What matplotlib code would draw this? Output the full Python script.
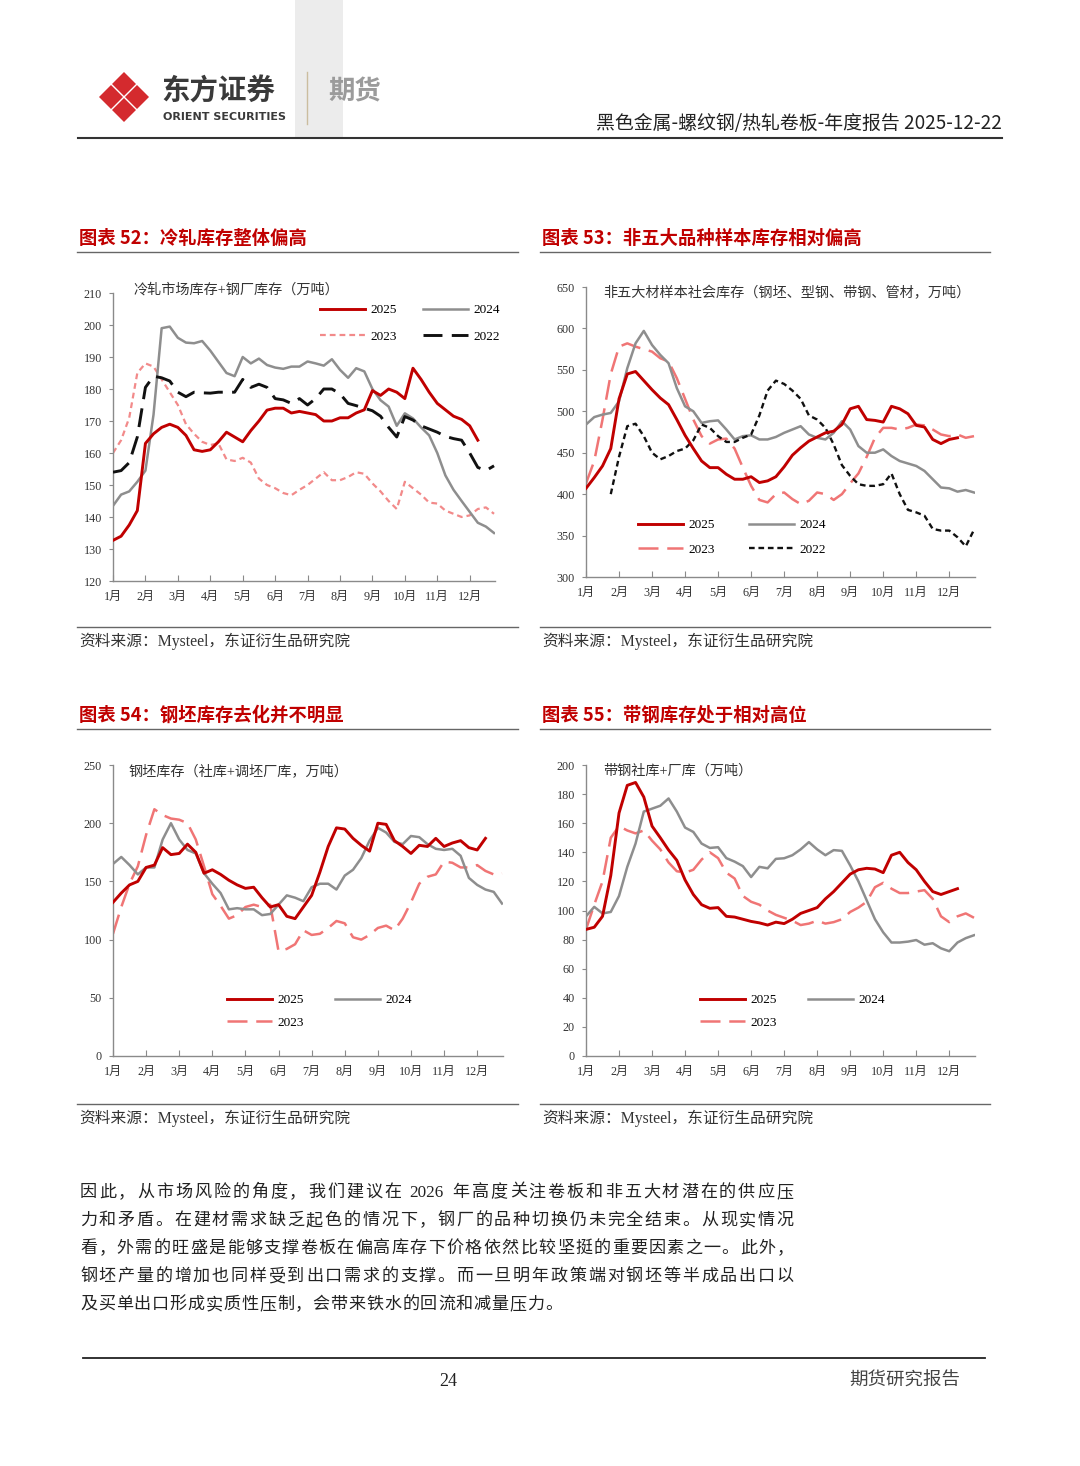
import numpy as np
import matplotlib.pyplot as plt
from matplotlib.patches import RegularPolygon, Rectangle

plt.rcParams['font.family'] = ['Liberation Serif', 'Noto Sans CJK SC']
plt.rcParams['axes.unicode_minus'] = False

# ---------------- data (quarter-month steps, first point = start of January) ----------------
months = [f'{m}月' for m in range(1, 13)]

# 图表52 冷轧库存
c1_2025 = [132.7, 134, 137.5, 142, 163, 166, 168, 169, 168, 165.5, 161, 160.5, 161, 163.5, 166.5, 165,
           163.5, 167, 170, 173.4, 174, 174, 172.5, 173, 172.5, 172, 170, 170, 171, 171, 172.5, 173.5,
           179.5, 178, 180, 179, 177, 186.5, 183, 179, 175.5, 173.5, 171.5, 170.5, 168.5, 164]
c1_2024 = [143.5, 147, 148, 151, 154.5, 172, 199, 199.5, 196, 194.5, 194.3, 195, 192, 188.5, 185, 184,
           190, 188, 189.5, 187.5, 186.7, 186.3, 187, 187, 188.6, 188, 187.3, 189.3, 186, 183.5, 186.5, 185.5,
           180, 176.5, 174.5, 168.5, 172.4, 170.8, 168, 165.5, 160, 153, 148.5, 145, 141.6, 138.2, 137, 135]
c1_2023 = [160, 164, 171, 185, 188, 187, 183, 179, 175, 169, 166, 163.5, 162.5, 163, 158, 157.5,
           158.5, 157, 152, 150, 149, 147.5, 146.8, 148.5, 150, 152, 154, 151.5, 151.5, 152.5, 154, 153.5,
           150.5, 148, 145, 142.5, 151, 149, 147, 144.5, 144.2, 142, 141, 140, 140.5, 142.5, 143, 141]
c1_2022 = [154, 154.5, 157, 165, 180.5, 184, 183.5, 182.5, 179, 177.6, 179, 178.8, 178.7, 179, 179, 179,
           183, 180.5, 181.5, 180.5, 177, 176.6, 175.5, 177, 175, 177, 180, 180, 178.5, 175.5, 174.8, 174,
           173.2, 171.5, 168, 165, 171.4, 170.3, 168.5, 167.5, 166.5, 165.2, 164.5, 164, 160, 155.5, 154.5, 156]

# 图表53 非五大材样本社会库存
c2_2025 = [407, 420, 434, 455, 515, 545, 548, 537, 526, 516, 508, 490, 471, 455, 440, 432,
           432, 424, 418, 418, 421, 414, 416, 421, 433, 447, 456, 464, 469, 474, 476, 484,
           503, 506, 490, 489, 487, 506, 503, 497, 483, 481, 466, 461, 466, 468]
c2_2024 = [484, 493, 496, 498, 512, 552, 582, 597, 580, 568, 558, 528, 506, 500, 486, 488,
           489, 478, 466, 470, 471, 466, 466, 469, 474, 478, 482, 472, 468, 466, 474, 488,
           478, 458, 450, 450, 454, 446, 440, 437, 434, 428, 418, 408, 407, 403, 405, 402]
c2_2023 = [413, 440, 490, 545, 578, 582, 578, 575, 572, 564, 560, 540, 515, 490, 470, 461,
           466, 467, 455, 432, 410, 393, 390, 400, 402, 394, 388, 392, 402, 400, 393, 400,
           413, 425, 445, 468, 480, 480, 478, 480, 484, 483, 478, 472, 470, 472, 468, 470]
c2_2022_start = 3
c2_2022 = [400, 445, 482, 485, 470, 450, 442, 446, 452, 455, 465, 484, 480, 470, 463,
           463, 468, 472, 495, 525, 537, 533, 525, 515, 495, 490, 480, 460, 435, 422, 412,
           410, 410, 412, 425, 400, 381, 378, 374, 358, 356, 356, 348, 337, 357]

# 图表54 钢坯库存
c3_2025 = [132, 140, 147, 150, 162, 164, 179, 173, 174, 182, 175, 157, 160, 156, 151, 147,
           144, 145, 136, 128, 130, 120, 118, 128, 138, 158, 180, 196, 195, 187, 181, 176,
           200, 199, 185, 180, 174, 181, 180, 187, 180, 183, 185, 179, 177, 187]
c3_2024 = [165, 171, 164, 156, 162, 162, 186, 200, 186, 177, 174, 157, 148, 140, 126, 127,
           126, 126, 121, 122, 130, 138, 136, 133, 145, 148, 148, 143, 155, 160, 170, 185,
           196, 192, 184, 182, 189, 188, 182, 178, 177, 178, 172, 153, 147, 143, 141, 131]
c3_2023 = [105, 128, 148, 163, 190, 212, 207, 204, 203, 200, 186, 163, 139, 129, 118, 121,
           128, 130, 128, 130, 90, 92, 96, 108, 104, 105, 110, 116, 114, 102, 100, 104,
           110, 112, 108, 118, 132, 148, 154, 156, 167, 166, 162, 162, 164, 159, 156, 157]

# 图表55 带钢社库+厂库
c4_2025 = [87, 88.5, 96, 124, 167, 186, 188, 178, 158, 150, 141.6, 134.5, 121, 111, 104, 101.5,
           102, 96, 95.5, 94, 92.5, 91.5, 90, 92, 91, 94, 98, 100, 102, 108, 113, 119,
           125, 128, 129, 128.5, 126, 138, 140, 133, 128, 120, 113, 111, 113, 115]
c4_2024 = [96, 102.5, 98, 99, 110, 130, 146, 168, 170, 172, 177, 168, 157, 154, 146, 143,
           143.5, 136, 133.6, 130.5, 123, 130, 129, 135.5, 135.9, 138, 142, 147, 142, 138, 141.5, 141,
           131, 120, 107, 94, 85, 78, 78, 78.6, 79.7, 76.5, 77.5, 74, 72, 78, 81, 83]
c4_2023 = [87, 104, 120, 150, 158, 155, 153, 155, 148, 142, 133, 127, 126, 128, 135, 140,
           136, 126, 122, 110, 106, 104, 100, 97, 95, 93, 90, 91, 93, 91, 92, 94,
           99, 102, 106, 116, 119, 115, 112, 112, 113, 114, 108, 96, 92, 96, 98, 95]

# ---------------- page ----------------
W, H = 1080, 1466
fig = plt.figure(figsize=(W / 100, H / 100), dpi=100)
page = fig.add_axes([0, 0, 1, 1])
page.set_xlim(0, W)
page.set_ylim(H, 0)
page.axis('off')

RED = '#c00000'
GRAY = '#8e8e8e'
PINK = '#f07575'
PINK_LIGHT = '#f28a8a'
CJK = ['Noto Sans CJK SC', 'DejaVu Sans']

# header
page.add_patch(Rectangle((295, 0), 48, 137, color='#ececec', lw=0))
for cx, cy in [(124, 84), (124, 110), (111, 97), (137, 97)]:
    page.add_patch(RegularPolygon((cx, cy), 4, radius=12, color='#d42a2e', lw=0))
page.text(161, 92, '东方证券', family=CJK, fontsize=20.5, weight='bold', color='#3a3a3a', va='center')
page.text(163, 117, 'ORIENT SECURITIES', family='DejaVu Sans', fontsize=8, weight='bold',
          color='#3a3a3a', va='center')
page.plot([307, 307], [72, 124], color='#cbbd9f', lw=1)
page.text(328, 92, '期货', family=CJK, fontsize=19, weight='bold', color='#9b9b9b', va='center')
page.text(1002, 124, '黑色金属-螺纹钢/热轧卷板-年度报告 2025-12-22', family=CJK, fontsize=13.6,
          color='#222222', ha='right', va='center')
page.plot([78, 1002], [137.5, 137.5], color='#333333', lw=1.5)


def section(x0, x1, y_title, y_src, title):
    page.text(x0 + 2, y_title, title, family=CJK, fontsize=13.2, weight='bold', color=RED, va='center')
    page.plot([x0, x1], [y_title + 14, y_title + 14], color='#666666', lw=1)
    page.plot([x0, x1], [y_src - 14, y_src - 14], color='#666666', lw=1)
    page.text(x0 + 2, y_src, '资料来源：Mysteel，东证衍生品研究院', fontsize=11.3, color='#333333', va='center')


section(77, 518, 238, 641, '图表 52：冷轧库存整体偏高')
section(540, 990, 238, 641, '图表 53：非五大品种样本库存相对偏高')
section(77, 518, 715, 1118, '图表 54：钢坯库存去化并不明显')
section(540, 990, 715, 1118, '图表 55：带钢库存处于相对高位')


def box(l, t, r, b):
    return [l / W, 1 - b / H, (r - l) / W, (b - t) / H]


def setup(ax, ymin, ymax, step):
    ax.set_xlim(0, 11.78)
    ax.set_ylim(ymin, ymax)
    ax.set_yticks(np.arange(ymin, ymax + 1, step))
    ax.set_xticks(range(12))
    ax.set_xticklabels(months)
    for s in ['top', 'right']:
        ax.spines[s].set_visible(False)
    for s in ['left', 'bottom']:
        ax.spines[s].set_color('#8a8a8a')
        ax.spines[s].set_linewidth(1)
    ax.tick_params(axis='x', direction='in', length=4, pad=7, labelsize=8.7, color='#8a8a8a',
                   labelcolor='#333333')
    ax.tick_params(axis='y', direction='out', length=3, pad=5, labelsize=8.7, color='#8a8a8a',
                   labelcolor='#333333')
    ax.patch.set_alpha(0)


def xs(vals, start=0):
    return (np.arange(len(vals)) + start) / 4.0


def legend(ax, handles, x, y, colsp, lsp):
    ax.legend(handles=handles, ncol=2, frameon=False, loc='upper left',
              bbox_to_anchor=(x / W, 1 - y / H), bbox_transform=fig.transFigure,
              handlelength=3.4, handletextpad=0.4, columnspacing=colsp, labelspacing=lsp,
              fontsize=9.5, borderpad=0, borderaxespad=0)


NOTE = 10.2

# chart 52
ax1 = fig.add_axes(box(113, 293, 495, 581))
setup(ax1, 120, 210, 10)
l25, = ax1.plot(xs(c1_2025), c1_2025, color=RED, lw=2.1, label='2025', zorder=5)
l24, = ax1.plot(xs(c1_2024), c1_2024, color=GRAY, lw=1.8, label='2024', zorder=3)
l23, = ax1.plot(xs(c1_2023), c1_2023, color=PINK_LIGHT, lw=1.6, dashes=(2.6, 1.8), label='2023', zorder=2)
l22, = ax1.plot(xs(c1_2022), c1_2022, color='#111111', lw=2.1, dashes=(6.5, 3.2), label='2022', zorder=4)
legend(ax1, [l25, l23, l24, l22], 320, 304, 2.0, 1.1)
page.text(133, 290, '冷轧市场库存+钢厂库存（万吨）', fontsize=NOTE, color='#333333', va='center')

# chart 53
ax2 = fig.add_axes(box(586, 287, 975, 577))
setup(ax2, 300, 650, 50)
l25, = ax2.plot(xs(c2_2025), c2_2025, color=RED, lw=2.1, label='2025', zorder=5)
l24, = ax2.plot(xs(c2_2024), c2_2024, color=GRAY, lw=1.8, label='2024', zorder=3)
l23, = ax2.plot(xs(c2_2023), c2_2023, color=PINK, lw=1.8, dashes=(8, 3.5), label='2023', zorder=2)
l22, = ax2.plot(xs(c2_2022, c2_2022_start), c2_2022, color='#111111', lw=1.7, dashes=(2.4, 1.6),
                label='2022', zorder=4)
legend(ax2, [l25, l23, l24, l22], 638, 519, 2.65, 0.95)
page.text(603, 293, '非五大材样本社会库存（钢坯、型钢、带钢、管材，万吨）', fontsize=NOTE, color='#333333',
          va='center')

# chart 54
ax3 = fig.add_axes(box(113, 765, 503, 1056))
setup(ax3, 0, 250, 50)
l25, = ax3.plot(xs(c3_2025), c3_2025, color=RED, lw=2.1, label='2025', zorder=5)
l24, = ax3.plot(xs(c3_2024), c3_2024, color=GRAY, lw=1.8, label='2024', zorder=3)
l23, = ax3.plot(xs(c3_2023), c3_2023, color=PINK, lw=1.8, dashes=(8, 3.5), label='2023', zorder=2)
legend(ax3, [l25, l23, l24], 227, 994, 2.4, 0.8)
page.text(129, 771, '钢坯库存（社库+调坯厂库，万吨）', fontsize=NOTE, color='#333333', va='center')

# chart 55
ax4 = fig.add_axes(box(586, 765, 975, 1056))
setup(ax4, 0, 200, 20)
l25, = ax4.plot(xs(c4_2025), c4_2025, color=RED, lw=2.1, label='2025', zorder=5)
l24, = ax4.plot(xs(c4_2024), c4_2024, color=GRAY, lw=1.8, label='2024', zorder=3)
l23, = ax4.plot(xs(c4_2023), c4_2023, color=PINK, lw=1.8, dashes=(8, 3.5), label='2023', zorder=2)
legend(ax4, [l25, l23, l24], 700, 994, 2.4, 0.8)
page.text(603, 771, '带钢社库+厂库（万吨）', fontsize=NOTE, color='#333333', va='center')

# body text
body = ['因此，从市场风险的角度，我们建议在 2026 年高度关注卷板和非五大材潜在的供应压',
        '力和矛盾。在建材需求缺乏起色的情况下，钢厂的品种切换仍未完全结束。从现实情况',
        '看，外需的旺盛是能够支撑卷板在偏高库存下价格依然比较坚挺的重要因素之一。此外，',
        '钢坯产量的增加也同样受到出口需求的支撑。而一旦明年政策端对钢坯等半成品出口以',
        '及买单出口形成实质性压制，会带来铁水的回流和减量压力。']


def tokens(s):
    out, num = [], ''
    for ch in s:
        if ch.isdigit():
            num += ch
            continue
        if num:
            out.append(num)
            num = ''
        out.append(ch)
    if num:
        out.append(num)
    return out


for i, line in enumerate(body):
    y = 1193 + 28 * i
    toks = tokens(line)
    wts = [0.3 if t == ' ' else (0.5 * len(t) if t.isdigit() else 1.0) for t in toks]
    unit = 715 / sum(wts) if i < len(body) - 1 else 17.9
    x = 80
    for t, w in zip(toks, wts):
        if t != ' ':
            page.text(x, y, t, fontsize=12.3, color='#222222', va='center', ha='left')
        x += w * unit

# footer
page.plot([83, 985], [1358, 1358], color='#222222', lw=1.3)
page.text(448, 1381, '24', fontsize=13, color='#222222', ha='center', va='center')
page.text(960, 1381, '期货研究报告', family=CJK, fontsize=13.3, color='#444444', ha='right', va='center')

fig.savefig('out.png', dpi=100)
